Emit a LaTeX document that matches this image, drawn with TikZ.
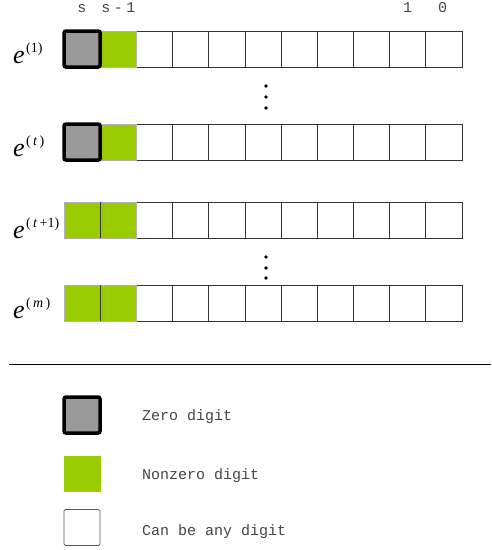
\documentclass[tikz,border=0pt]{standalone}
\usepackage{fontspec}
\setmainfont{Liberation Serif}
\setmonofont{Liberation Mono}
\definecolor{zgray}{HTML}{999999}
\definecolor{nzgreen}{HTML}{99CC00}
\definecolor{txtgray}{HTML}{444444}
\newcommand{\supx}[1]{\kern1.5pt\raisebox{11pt}{\fontsize{14}{14}\selectfont #1}}
\begin{document}
\begin{tikzpicture}[x=1pt,y=-1pt,
 cell/.style={draw=black!80, line width=0.8pt, fill=white, minimum width=36.18pt, minimum height=36pt, inner sep=0pt, outer sep=0pt},
 nzcell/.style={cell, fill=nzgreen, draw=black!30},
 zerocell/.style={cell, fill=zgray, draw=black, line width=3.5pt, rounded corners=2pt},
 elbl/.style={anchor=base west, inner sep=0pt, font=\fontsize{26}{26}\selectfont},
 toplbl/.style={anchor=base, inner sep=0pt, text=txtgray, font=\ttfamily\fontsize{15}{15}\selectfont},
 legtxt/.style={anchor=base west, inner sep=0pt, text=txtgray, font=\ttfamily\fontsize{15}{15}\selectfont},
 vdot/.style={circle, fill=black, inner sep=0pt, minimum size=3.8pt},
 sep/.style={draw=black!80, line width=0.8pt},
]
\useasboundingbox (0,0) rectangle (491,550);

% rows of white cells
\foreach \r/\y in {a/49, b/142, c/220, d/303} {
  \foreach \i in {2,...,10} {
    \node[cell] (\r\i) at ({82.09+36.1818*\i}, \y) {};
  }
}
% row a and b: zero + nonzero
\node[nzcell] (a1) at (118.27,49) {};
\node[zerocell] (a0) at (82.09,49) {};
\node[nzcell] (b1) at (118.27,142) {};
\node[zerocell] (b0) at (82.09,142) {};
% row c and d: two nonzero
\node[nzcell] (c0) at (82.09,220) {};
\node[nzcell] (c1) at (118.27,220) {};
\draw[sep] (c0.north east) -- (c0.south east);
\node[nzcell] (d0) at (82.09,303) {};
\node[nzcell] (d1) at (118.27,303) {};
\draw[sep] (d0.north east) -- (d0.south east);

% top labels
\node[toplbl] (ls) at (82,12) {s};
\node[toplbl] (ls1) at (118.5,12) {s\kern3.5pt-\kern3.5pt1};
\node[toplbl] (l1) at (407.5,12) {1};
\node[toplbl] (l0) at (442.5,12) {0};

% row labels
\node[elbl] (ea) at (13,63) {\textit{e}\supx{(1)}};
\node[elbl] (eb) at (13,156) {\textit{e}\supx{(\,\textit{t}\,)}};
\node[elbl] (ec) at (13,238) {\textit{e}\supx{(\,\textit{t}\,+1)}};
\node[elbl] (ed) at (13,318) {\textit{e}\supx{(\,\textit{m}\,)}};

% vertical dots
\node[vdot] (d1a) at (266,86) {};
\node[vdot] (d1b) at (266,97) {};
\node[vdot] (d1c) at (266,108) {};
\node[vdot] (d2a) at (266,257) {};
\node[vdot] (d2b) at (266,268) {};
\node[vdot] (d2c) at (266,278) {};

% separator line
\coordinate (hl) at (9,364.5);
\coordinate (hr) at (491,364.5);
\draw[line width=1.5pt] (hl) -- (hr);

% legend
\node[zerocell, minimum width=36pt] (lz) at (82,415) {};
\node[nzcell, draw=none] (lg) at (82.5,473.5) {};
\node[cell, draw=black!65, rounded corners=1.5pt] (lw) at (82,527.5) {};
\node[legtxt] (tz) at (142,420.7) {Zero digit};
\node[legtxt] (tg) at (142,479) {Nonzero digit};
\node[legtxt] (tw) at (142,535) {Can be any digit};
\end{tikzpicture}
\end{document}
